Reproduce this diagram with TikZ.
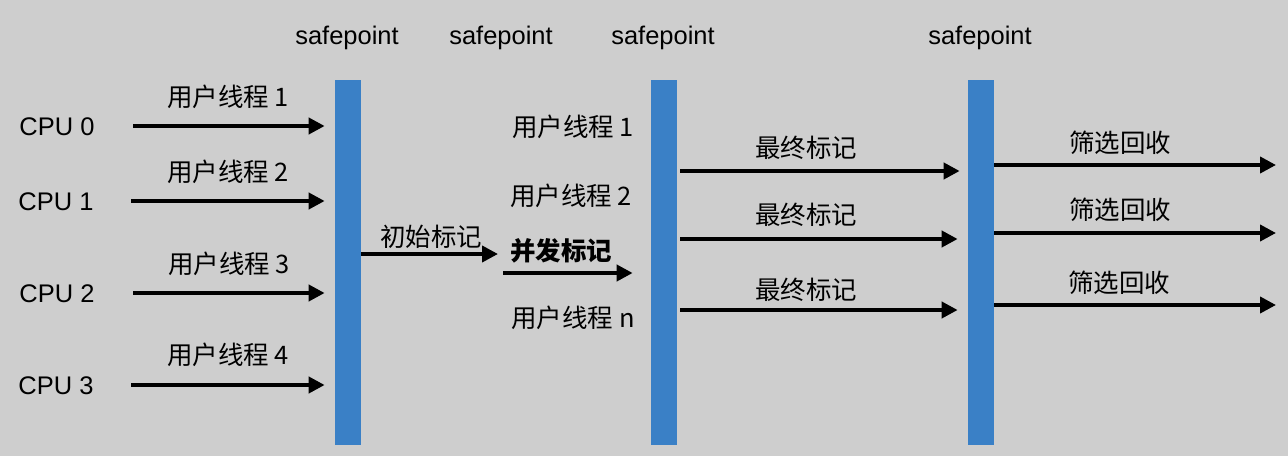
\documentclass[tikz,border=0pt]{standalone}
\usepackage{fontspec}
\setmainfont{Liberation Sans}
\newfontfamily\cjk{Noto Sans CJK SC}
\usetikzlibrary{arrows.meta,positioning}
\definecolor{bggray}{RGB}{206,206,206}
\definecolor{barblue}{RGB}{58,128,198}
\tikzset{
  bar/.style={fill=barblue, draw=none, minimum width=0.52cm, minimum height=7.32cm, inner sep=0pt},
  flow/.style={line width=2.2pt, -{Triangle[length=0.32cm, width=0.32cm]}},
  lab/.style={inner sep=1pt, font=\fontsize{14.5}{17}\selectfont},
  cn/.style={inner sep=1pt, font=\fontsize{14.5}{17}\selectfont\cjk},
}
\begin{document}
\begin{tikzpicture}[x=0.02cm, y=-0.02cm]
				\useasboundingbox (0,0) rectangle (1288,456);
				\fill[bggray] (0,0) rectangle (1288,456);
				
				% safepoint bars
				\node[bar] (sp1) at (348,262.5) {};
				\node[bar] (sp2) at (664,262.5) {};
				\node[bar] (sp3) at (981,262.5) {};
				
				\node[lab] (s1) at (347,38) {safepoint};
				\node[lab] (s2) at (501,38) {safepoint};
				\node[lab] (s3) at (663,38) {safepoint};
				\node[lab] (s4) at (980,38) {safepoint};
				
				% CPUs
				\node[lab] (cpu0) at (57,127) {CPU 0};
				\node[lab] (cpu1) at (56,202) {CPU 1};
				\node[lab] (cpu2) at (57,294) {CPU 2};
				\node[lab] (cpu3) at (56,386) {CPU 3};
				
				\coordinate (a0) at (133,126);
				\coordinate (a1) at (131,201);
				\coordinate (a2) at (133,293);
				\coordinate (a3) at (131,385);
				\draw[flow, shorten >=0.2cm] (a0) -- (a0 -| sp1.west);
				\draw[flow, shorten >=0.2cm] (a1) -- (a1 -| sp1.west);
				\draw[flow, shorten >=0.2cm] (a2) -- (a2 -| sp1.west);
				\draw[flow, shorten >=0.2cm] (a3) -- (a3 -| sp1.west);
				
				\node[cn] (t1) at (228,97) {用户线程 1};
				\node[cn] (t2) at (228,172) {用户线程 2};
				\node[cn] (t3) at (229,264) {用户线程 3};
				\node[cn] (t4) at (228,355) {用户线程 4};
				
				% initial mark
				\coordinate (im) at (498,254);
				\draw[flow] (im -| sp1.east) -- (im);
				\node[cn] (imlab) at (431,237) {初始标记};
				
				% concurrent mark
				\node[cn, font=\fontsize{14.5}{17}\selectfont\cjk\bfseries] (cm) at (561,251) {并发标记};
				\coordinate (cma) at (503,273);
				\draw[flow, shorten >=0.36cm] (cma) -- (cma -| sp2.west);
				\node[cn] (u1) at (573,127) {用户线程 1};
				\node[cn] (u2) at (571,196) {用户线程 2};
				\node[cn] (un) at (573,318) {用户线程 n};
				
				% remark
				\coordinate (r1) at (680,171);
				\coordinate (r2) at (680,239);
				\coordinate (r3) at (680,310);
				\draw[flow, shorten >=0.16cm] (r1) -- (r1 -| sp3.west);
				\draw[flow, shorten >=0.2cm] (r2) -- (r2 -| sp3.west);
				\draw[flow, shorten >=0.2cm] (r3) -- (r3 -| sp3.west);
				\node[cn] (rl1) at (806,148) {最终标记};
				\node[cn] (rl2) at (806,215) {最终标记};
				\node[cn] (rl3) at (806,290) {最终标记};
				
				% cleanup
				\coordinate (f1) at (1276,165);
				\coordinate (f2) at (1276,233);
				\coordinate (f3) at (1276,305);
				\draw[flow] (f1 -| sp3.east) -- (f1);
				\draw[flow] (f2 -| sp3.east) -- (f2);
				\draw[flow] (f3 -| sp3.east) -- (f3);
				\node[cn] (fl1) at (1120,143) {筛选回收};
				\node[cn] (fl2) at (1120,210) {筛选回收};
				\node[cn] (fl3) at (1119,283) {筛选回收};
			\end{tikzpicture}
\end{document}
